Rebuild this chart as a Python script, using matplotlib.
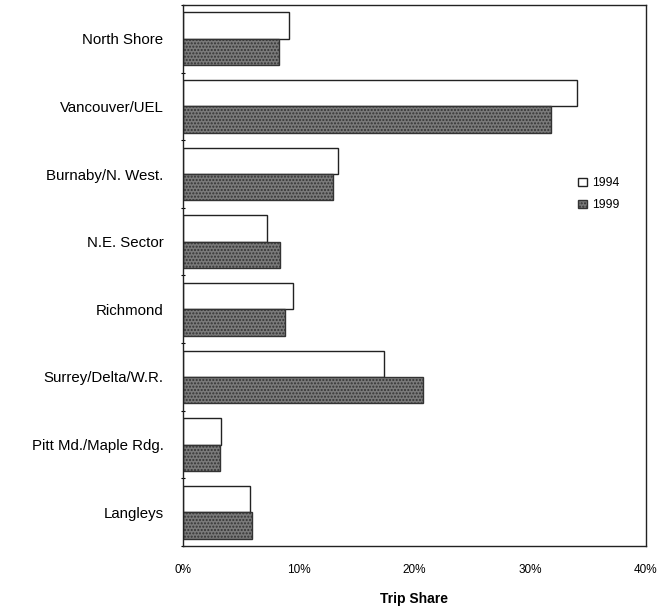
import numpy as np
import matplotlib.pyplot as plt
from matplotlib.ticker import PercentFormatter

plt.rcParams['font.family'] = ['Liberation Sans', 'DejaVu Sans']

regions = ['North Shore', 'Vancouver/UEL', 'Burnaby/N. West.', 'N.E. Sector',
           'Richmond', 'Surrey/Delta/W.R.', 'Pitt Md./Maple Rdg.', 'Langleys']
share_1994 = [9.2, 34.0, 13.4, 7.3, 9.5, 17.4, 3.3, 5.8]
share_1999 = [8.3, 31.8, 13.0, 8.4, 8.8, 20.7, 3.2, 6.0]

fig = plt.figure(figsize=(6.72, 6.08), dpi=100)
ax = fig.add_axes([0.2723, 0.102, 0.689, 0.8898])

y = np.arange(len(regions))
h = 0.39
ax.barh(y - h / 2, share_1994, h, color='white', edgecolor='#222222',
        linewidth=1, label='1994')
ax.barh(y + h / 2, share_1999, h, color='#7a7a7a', edgecolor='#333333',
        linewidth=1, hatch='.....', label='1999')

ax.set_xlim(0, 40)
ax.set_ylim(len(regions) - 0.5, -0.5)
ax.set_xticks([0, 10, 20, 30, 40])
ax.xaxis.set_major_formatter(PercentFormatter(decimals=0))
ax.tick_params(axis='x', length=0, pad=13, labelsize=8.5)

ax.set_yticks(y)
ax.set_yticklabels(regions)
ax.set_yticks(np.arange(len(regions) + 1) - 0.5, minor=True)
ax.tick_params(axis='y', which='major', length=0, pad=14, labelsize=10.8)
ax.tick_params(axis='y', which='minor', length=3, direction='inout', width=0.8)

for s in ax.spines.values():
    s.set_linewidth(1)
    s.set_color('#222222')

ax.set_xlabel('Trip Share', fontweight='bold', fontsize=10, labelpad=11.5)

leg = ax.legend(loc='center left', bbox_to_anchor=(0.83, 0.65), frameon=False,
                fontsize=8.8, handlelength=0.7, handleheight=0.7,
                handletextpad=0.4, labelspacing=0.8)

fig.savefig('out.png', dpi=100)
